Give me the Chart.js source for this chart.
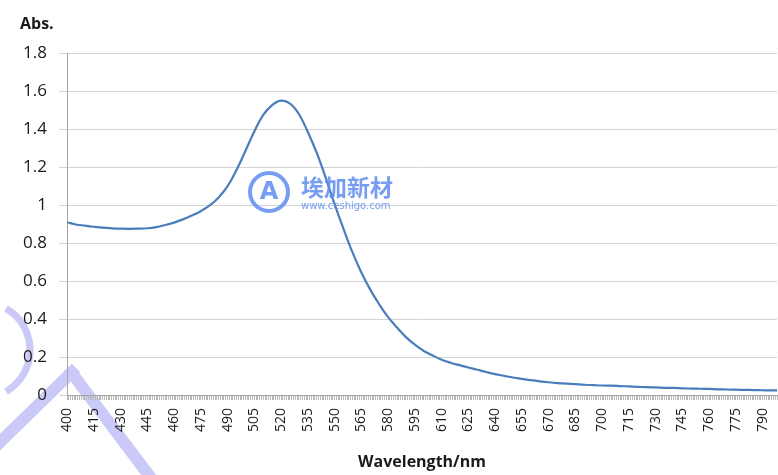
<!DOCTYPE html>
<html>
<head>
<meta charset="utf-8">
<script src="https://cdn.jsdelivr.net/npm/chart.js@4.4.1/dist/chart.umd.min.js"></script>
<style>
  html, body { margin: 0; padding: 0; background: #fff; }
  #wrap { width: 778px; height: 475px; position: relative; }
</style>
</head>
<body>
<div id="wrap"><canvas id="chart"></canvas></div>
<script>
// wavelength (nm) and absorbance
const wavelengths = [400,405,410,415,420,425,430,435,440,445,450,455,460,465,470,475,480,485,490,495,
  500,505,510,515,520,525,530,535,540,545,550,555,560,565,570,575,580,585,590,595,
  600,605,610,615,620,625,630,635,640,645,650,655,660,665,670,675,680,685,690,695,
  700,705,710,715,720,725,730,735,740,745,750,755,760,765,770,775,780,785,790,795,798]
const absorbance = [0.910,0.898,0.892,0.886,0.881,0.878,0.876,0.875,0.876,0.878,0.884,0.895,0.908,0.925,0.945,0.968,0.998,1.040,1.100,1.185,
  1.285,1.388,1.475,1.527,1.550,1.535,1.480,1.385,1.275,1.145,1.005,0.875,0.752,0.645,0.555,0.478,0.410,0.355,0.305,0.265,
  0.232,0.208,0.186,0.170,0.157,0.145,0.133,0.121,0.110,0.101,0.092,0.085,0.078,0.072,0.067,0.063,0.060,0.057,0.054,0.052,
  0.050,0.049,0.047,0.045,0.043,0.041,0.040,0.038,0.037,0.035,0.034,0.033,0.032,0.030,0.029,0.028,0.027,0.026,0.025,0.024,0.024]
const xMin = 400, xMax = 798, xLabelStep = 15
const yMax = 1.8, yStep = 0.2

const points = wavelengths.map((w, i) => ({ x: w, y: absorbance[i] }))

const txt = '#1a1a1a'
const font = "'Open Sans', 'DejaVu Sans', sans-serif"

// faint watermark of the source picture
const watermark = {
    id: 'watermark',
    beforeDraw(chart) {
        const ctx = chart.ctx
        ctx.save()
        ctx.strokeStyle = '#cbc9f7'
        ctx.lineWidth = 12
        ctx.beginPath(); ctx.moveTo(76, 368); ctx.lineTo(-6, 448); ctx.stroke()
        ctx.beginPath(); ctx.moveTo(68, 368); ctx.lineTo(160, 490); ctx.stroke()
        ctx.lineWidth = 7
        ctx.beginPath(); ctx.arc(-18, 350, 48, -Math.PI / 3, Math.PI / 3); ctx.stroke()
        ctx.restore()
    },
    afterDatasetsDraw(chart) {
        const ctx = chart.ctx
        ctx.save()
        ctx.globalAlpha = 0.85
        ctx.strokeStyle = '#5f8cf0'
        ctx.fillStyle = '#5f8cf0'
        ctx.lineWidth = 4
        ctx.beginPath(); ctx.arc(269, 192, 19, 0, Math.PI * 2); ctx.stroke()
        ctx.font = "bold 24px 'DejaVu Sans', sans-serif"
        ctx.textAlign = 'center'; ctx.textBaseline = 'middle'
        ctx.fillText('A', 269, 193)
        ctx.textAlign = 'left'
        ctx.font = "bold 23px 'Noto Sans CJK SC', sans-serif"
        ctx.fillText('埃加新材', 301, 187)
        ctx.font = "10px 'DejaVu Sans', sans-serif"
        ctx.fillText('www.ceshigo.com', 301, 206)
        ctx.restore()
    }
}

new Chart(document.getElementById('chart').getContext('2d'), {
    type: 'line',
    data: {
        datasets: [{
            data: points,
            borderColor: '#4a7ebb',
            borderWidth: 2.2,
            pointRadius: 0,
            tension: 0.4,
            fill: false
        }]
    },
    options: {
        responsive: true,
        maintainAspectRatio: false,
        animation: false,
        layout: { padding: { left: 20, right: 1, top: 0, bottom: 0 } },
        plugins: {
            legend: { display: false },
            tooltip: { enabled: false },
            title: {
                display: true,
                text: 'Abs.',
                align: 'start',
                color: txt,
                font: { family: font, size: 16, weight: 'bold' },
                padding: { top: 15, bottom: 19 }
            }
        },
        scales: {
            x: {
                type: 'linear',
                min: xMin,
                max: xMax,
                afterFit: (s) => { s.height = 80; s.paddingLeft = 0; s.paddingRight = 0 },
                border: { color: '#a6a6a6' },
                grid: { drawOnChartArea: false, tickLength: 5, color: '#b8b8b8' },
                ticks: {
                    stepSize: 1,
                    autoSkip: false,
                    minRotation: 90,
                    maxRotation: 90,
                    padding: 8,
                    color: txt,
                    font: { family: font, size: 14 },
                    callback: (v) => (v - xMin) % xLabelStep === 0 ? String(v) : ''
                },
                title: {
                    display: true,
                    text: 'Wavelength/nm',
                    color: txt,
                    font: { family: font, size: 16, weight: 'bold' },
                    padding: { top: 0, bottom: 3 }
                }
            },
            y: {
                min: 0,
                max: yMax,
                afterFit: (s) => { s.width = 47 },
                border: { color: '#a6a6a6' },
                grid: { color: '#d4d4d4', tickLength: 8 },
                ticks: {
                    stepSize: yStep,
                    padding: 12,
                    color: txt,
                    font: { family: font, size: 17 },
                    callback: (v) => String(Math.round(v * 10) / 10)
                }
            }
        }
    },
    plugins: [watermark]
})
</script>
</body>
</html>
